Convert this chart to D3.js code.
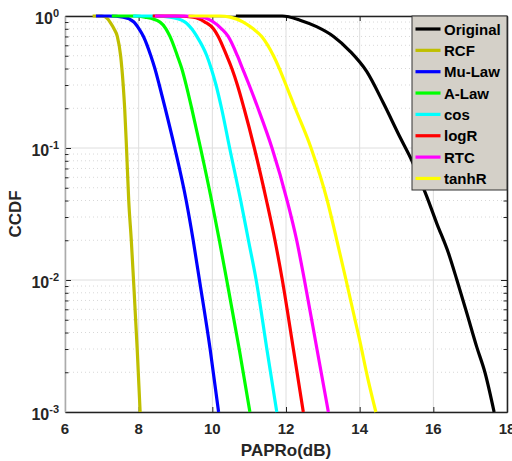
<!DOCTYPE html>
<html>
<head>
<meta charset="utf-8">
<script src="https://cdn.jsdelivr.net/npm/d3@7"></script>
<style>
  body { margin: 0; background: #fff; }
  svg { display: block; font-family: "Liberation Sans", Arial, sans-serif; font-weight: bold; }
</style>
</head>
<body>
<script>
// CCDF curves: [PAPRo dB, CCDF]
const original = [[10.64,1],[11.9,1],[12.38,0.93],[12.83,0.83],[13.29,0.7],[13.74,0.54],[14.19,0.38],[14.64,0.22],[15.1,0.12],[15.41,0.081],[15.82,0.043],[16.09,0.027],[16.41,0.016],[16.64,0.01],[16.91,0.0056],[17.18,0.0031],[17.4,0.002],[17.65,0.001]]
const rcf = [[6.75,1],[7.0,1],[7.16,0.95],[7.22,0.9],[7.33,0.8],[7.42,0.7],[7.51,0.5],[7.58,0.3],[7.62,0.2],[7.67,0.1],[7.73,0.04],[7.8,0.02],[7.86,0.01],[7.96,0.003],[8.04,0.001]]
const muLaw = [[6.84,1],[7.2,1],[7.58,0.98],[7.87,0.9],[8.01,0.8],[8.13,0.7],[8.33,0.5],[8.44,0.4],[8.56,0.3],[8.72,0.2],[8.98,0.1],[9.29,0.04],[9.48,0.02],[9.65,0.01],[9.94,0.003],[10.17,0.001]]
const aLaw = [[7.27,1],[7.9,1],[8.17,0.98],[8.58,0.9],[8.74,0.8],[8.85,0.7],[9.05,0.5],[9.17,0.4],[9.29,0.3],[9.44,0.2],[9.68,0.1],[9.98,0.04],[10.19,0.02],[10.39,0.01],[10.73,0.003],[11.02,0.001]]
const cosC = [[7.85,1],[8.4,1],[8.85,0.98],[9.26,0.9],[9.44,0.8],[9.58,0.7],[9.85,0.5],[9.97,0.4],[10.1,0.3],[10.25,0.2],[10.47,0.1],[10.77,0.04],[10.98,0.02],[11.19,0.01],[11.48,0.003],[11.75,0.001]]
const logR = [[8.38,1],[9.0,1],[9.48,0.98],[9.8,0.9],[10.03,0.8],[10.16,0.7],[10.39,0.5],[10.53,0.4],[10.68,0.3],[10.86,0.2],[11.14,0.1],[11.47,0.04],[11.7,0.02],[11.9,0.01],[12.2,0.003],[12.47,0.001]]
const rtc = [[8.44,1],[9.2,1],[9.71,0.98],[10.03,0.9],[10.25,0.8],[10.43,0.7],[10.68,0.5],[10.82,0.4],[11.0,0.3],[11.24,0.2],[11.62,0.1],[12.03,0.04],[12.29,0.02],[12.5,0.01],[12.84,0.003],[13.15,0.001]]
const tanhR = [[9.35,1],[10.2,1],[10.48,0.98],[10.84,0.9],[11.11,0.8],[11.34,0.7],[11.66,0.5],[11.82,0.4],[12.0,0.3],[12.25,0.2],[12.68,0.1],[13.12,0.04],[13.38,0.02],[13.63,0.01],[13.84,0.0055],[14.0,0.0035],[14.22,0.0018],[14.44,0.001]]

const names = ['Original','RCF','Mu-Law','A-Law','cos','logR','RTC','tanhR']
const seriesData = [original, rcf, muLaw, aLaw, cosC, logR, rtc, tanhR]
const colors = ['#000000','#bfbf00','#0000ff','#00ff00','#00ffff','#ff0000','#ff00ff','#ffff00']

const xTicks = [6,8,10,12,14,16,18]
const yMajor = [1e-3,1e-2,1e-1,1]
const yExp = ['-3','-2','-1','0']

const W = 512, H = 461
const mL = 65, mR = 507, mT = 16, mB = 412

const svg = d3.select('body').append('svg')
    .attr('width', W)
    .attr('height', H)

const x = d3.scaleLinear().domain([6,18]).range([mL,mR])
const y = d3.scaleLog().domain([1e-3,1]).range([mB,mT])

// minor decades 2..9
let yMinor = []
for (let d = -3; d < 0; d++)
    for (let k = 2; k <= 9; k++) yMinor.push(k * Math.pow(10, d))

// grid
let grid = svg.append('g')
grid.selectAll('.ym').data(yMinor).enter().append('line')
    .attr('x1', mL).attr('x2', mR)
    .attr('y1', d=>y(d)).attr('y2', d=>y(d))
    .attr('stroke', '#d8d8d8').attr('stroke-dasharray', '1,3')
grid.selectAll('.yM').data(yMajor).enter().append('line')
    .attr('x1', mL).attr('x2', mR)
    .attr('y1', d=>y(d)).attr('y2', d=>y(d))
    .attr('stroke', '#dedede')
grid.selectAll('.xM').data(xTicks).enter().append('line')
    .attr('x1', d=>x(d)).attr('x2', d=>x(d))
    .attr('y1', mT).attr('y2', mB)
    .attr('stroke', '#dedede')

// axes (ticks point inward)
const styleAxis = (g, col) => {
    g.selectAll('path').attr('stroke', col).attr('stroke-width', 1.3)
    g.selectAll('line').attr('stroke', '#222')
}
svg.append('g').attr('transform', `translate(0,${mB})`)
    .call(d3.axisBottom(x).tickValues(xTicks).tickSize(-5).tickSizeOuter(0).tickFormat(''))
    .call(g => styleAxis(g, '#222'))
svg.append('g').attr('transform', `translate(0,${mT})`)
    .call(d3.axisTop(x).tickValues(xTicks).tickSize(-5).tickSizeOuter(0).tickFormat(''))
    .call(g => styleAxis(g, '#222'))
svg.append('g').attr('transform', `translate(${mL},0)`)
    .call(d3.axisLeft(y).tickValues(yMajor).tickSize(-6).tickSizeOuter(0).tickFormat(''))
    .call(g => styleAxis(g, '#ababab'))
svg.append('g').attr('transform', `translate(${mL},0)`)
    .call(d3.axisLeft(y).tickValues(yMinor).tickSize(-3.5).tickSizeOuter(0).tickFormat(''))
    .call(g => styleAxis(g, '#ababab'))
svg.append('g').attr('transform', `translate(${mR},0)`)
    .call(d3.axisRight(y).tickValues(yMajor).tickSize(-6).tickSizeOuter(0).tickFormat(''))
    .call(g => styleAxis(g, '#222'))
svg.append('g').attr('transform', `translate(${mR},0)`)
    .call(d3.axisRight(y).tickValues(yMinor).tickSize(-3.5).tickSizeOuter(0).tickFormat(''))
    .call(g => styleAxis(g, '#222'))

// tick labels
svg.selectAll('.xl').data(xTicks).enter().append('text')
    .attr('x', d=>x(d)).attr('y', 434)
    .attr('text-anchor', 'middle')
    .attr('font-size', 15).attr('fill', '#262626')
    .text(d=>d)

let yl = svg.selectAll('.yl').data(yMajor).enter().append('text')
    .attr('x', 59).attr('y', d=>y(d) + 8)
    .attr('text-anchor', 'end')
    .attr('font-size', 16).attr('fill', '#262626')
yl.append('tspan').text('10')
yl.append('tspan').attr('dy', -7).attr('font-size', 11).text((d,i)=>yExp[i])

svg.append('text')
    .attr('x', (mL+mR)/2).attr('y', 456)
    .attr('text-anchor', 'middle')
    .attr('font-size', 17).attr('fill', '#262626')
    .text('PAPRo(dB)')
svg.append('text')
    .attr('transform', `translate(21,${(mT+mB)/2}) rotate(-90)`)
    .attr('text-anchor', 'middle')
    .attr('font-size', 17).attr('fill', '#262626')
    .text('CCDF')

// curves
const line = d3.line()
    .x(d=>x(d[0]))
    .y(d=>y(d[1]))
    .curve(d3.curveMonotoneX)

svg.append('g').selectAll('path').data(seriesData).enter().append('path')
    .attr('d', line)
    .attr('fill', 'none')
    .attr('stroke', (d,i)=>colors[i])
    .attr('stroke-width', 3.2)

// legend
let lg = svg.append('g').attr('transform', 'translate(412,16)')
lg.append('rect')
    .attr('width', 95).attr('height', 174)
    .attr('fill', '#d4d0c8').attr('stroke', '#333').attr('stroke-width', 1)
let item = lg.selectAll('.it').data(names).enter().append('g')
    .attr('transform', (d,i)=>`translate(0,${13 + i*21.35})`)
item.append('line')
    .attr('x1', 3.5).attr('x2', 28.5)
    .attr('stroke', (d,i)=>colors[i]).attr('stroke-width', 3.2)
item.append('text')
    .attr('x', 32).attr('y', 5.5)
    .attr('font-size', 15).attr('fill', '#000')
    .text(d=>d)
</script>
</body>
</html>
